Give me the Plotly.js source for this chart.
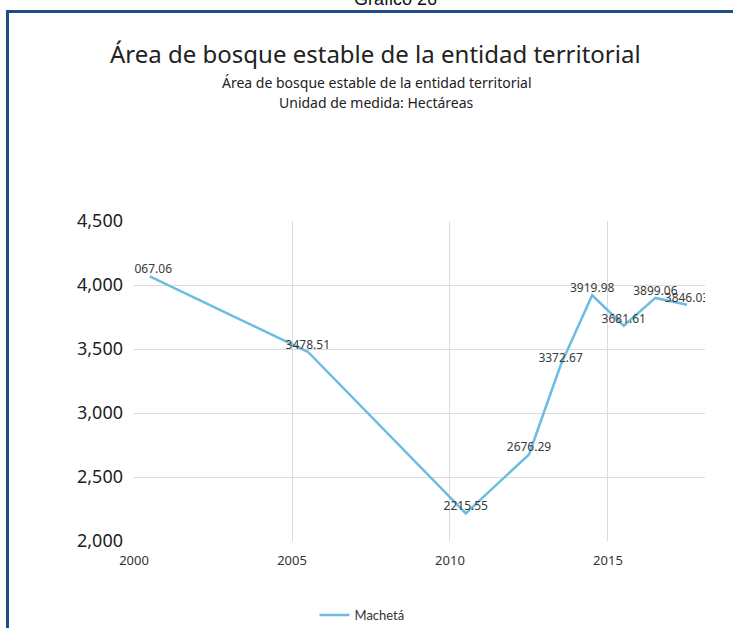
<!DOCTYPE html>
<html>
<head>
<meta charset="utf-8">
<script src="https://cdn.plot.ly/plotly-3.0.1.min.js"></script>
<style>html,body{margin:0;padding:0;background:#fff;}#chart{width:733px;height:628px;}</style>
</head>
<body>
<div id="chart"></div>
<script>
// Data
var years = [2000.5, 2005.5, 2010.5, 2012.5, 2013.5, 2014.5, 2015.5, 2016.5, 2017.5];
var values = [4067.06, 3478.51, 2215.55, 2676.29, 3372.67, 3919.98, 3681.61, 3899.06, 3846.03];
var labels = ["4067.06", "3478.51", "2215.55", "2676.29", "3372.67", "3919.98", "3681.61", "3899.06", "3846.03"];
var seriesName = "Machetá";
var xTicks = [2000, 2005, 2010, 2015];
var yTicks = [2000, 2500, 3000, 3500, 4000, 4500];

var W = 733, H = 628;
var L = 134, R = 705, T = 221, B = 541;
function px(p){ return (p - L) / (R - L); }
function py(p){ return (B - p) / (B - T); }

var trace = {
  x: years, y: values, text: labels,
  type: 'scatter', mode: 'lines+text', name: seriesName,
  line: {color: '#6dbde2', width: 2.5},
  textposition: 'top center',
  textfont: {family: 'Noto Sans, sans-serif', size: 12, color: '#3a3a3a'},
  cliponaxis: true,
  hoverinfo: 'x+y'
};

var font = 'Noto Sans, sans-serif';
var layout = {
  width: W, height: H,
  margin: {l: L, r: W - R, t: T, b: H - B, pad: 0, autoexpand: false},
  paper_bgcolor: '#ffffff', plot_bgcolor: '#ffffff',
  showlegend: true,
  legend: {orientation: 'h', x: px(362), xanchor: 'center', y: py(615), yanchor: 'middle',
           font: {family: 'Lato, sans-serif', size: 13, color: '#333'}, bgcolor: 'rgba(0,0,0,0)'},
  xaxis: {range: [2000, 2018.07], tickvals: xTicks, ticktext: xTicks.map(String),
          showgrid: true, gridcolor: '#dcdcdc', gridwidth: 1, zeroline: false, showline: false,
          ticks: '', ticklabelstandoff: 10,
          tickfont: {family: font, size: 13, color: '#333'}, fixedrange: true},
  yaxis: {range: [2000, 4500], tickvals: yTicks, tickformat: ',', showgrid: true,
          gridcolor: '#dcdcdc', gridwidth: 1, zeroline: false, showline: false, ticks: '',
          ticklabelstandoff: 10,
          tickfont: {family: font, size: 18, color: '#222'}, fixedrange: true},
  annotations: [
    {text: 'Gráfico 26', xref: 'paper', yref: 'paper', x: px(395), y: py(-1), xanchor: 'center', yanchor: 'middle',
     showarrow: false, font: {family: 'Liberation Sans, Arial, sans-serif', size: 18, color: '#111'}},
    {text: 'Área de bosque estable de la entidad territorial', xref: 'paper', yref: 'paper', x: px(375), y: py(53),
     xanchor: 'center', yanchor: 'middle', showarrow: false, font: {family: font, size: 24, color: '#222'}},
    {text: 'Área de bosque estable de la entidad territorial', xref: 'paper', yref: 'paper', x: px(377), y: py(82),
     xanchor: 'center', yanchor: 'middle', showarrow: false, font: {family: font, size: 14, color: '#222'}},
    {text: 'Unidad de medida: Hectáreas', xref: 'paper', yref: 'paper', x: px(376), y: py(102),
     xanchor: 'center', yanchor: 'middle', showarrow: false, font: {family: font, size: 14, color: '#222'}}
  ],
  shapes: [
    {type: 'line', xref: 'paper', yref: 'paper', x0: px(6), x1: px(740), y0: py(11.5), y1: py(11.5),
     line: {color: '#1f4e85', width: 3}},
    {type: 'line', xref: 'paper', yref: 'paper', x0: px(7.5), x1: px(7.5), y0: py(10), y1: py(640),
     line: {color: '#1f4e85', width: 3}}
  ]
};

Plotly.newPlot('chart', [trace], layout, {displayModeBar: false, staticPlot: true});
</script>
</body>
</html>
